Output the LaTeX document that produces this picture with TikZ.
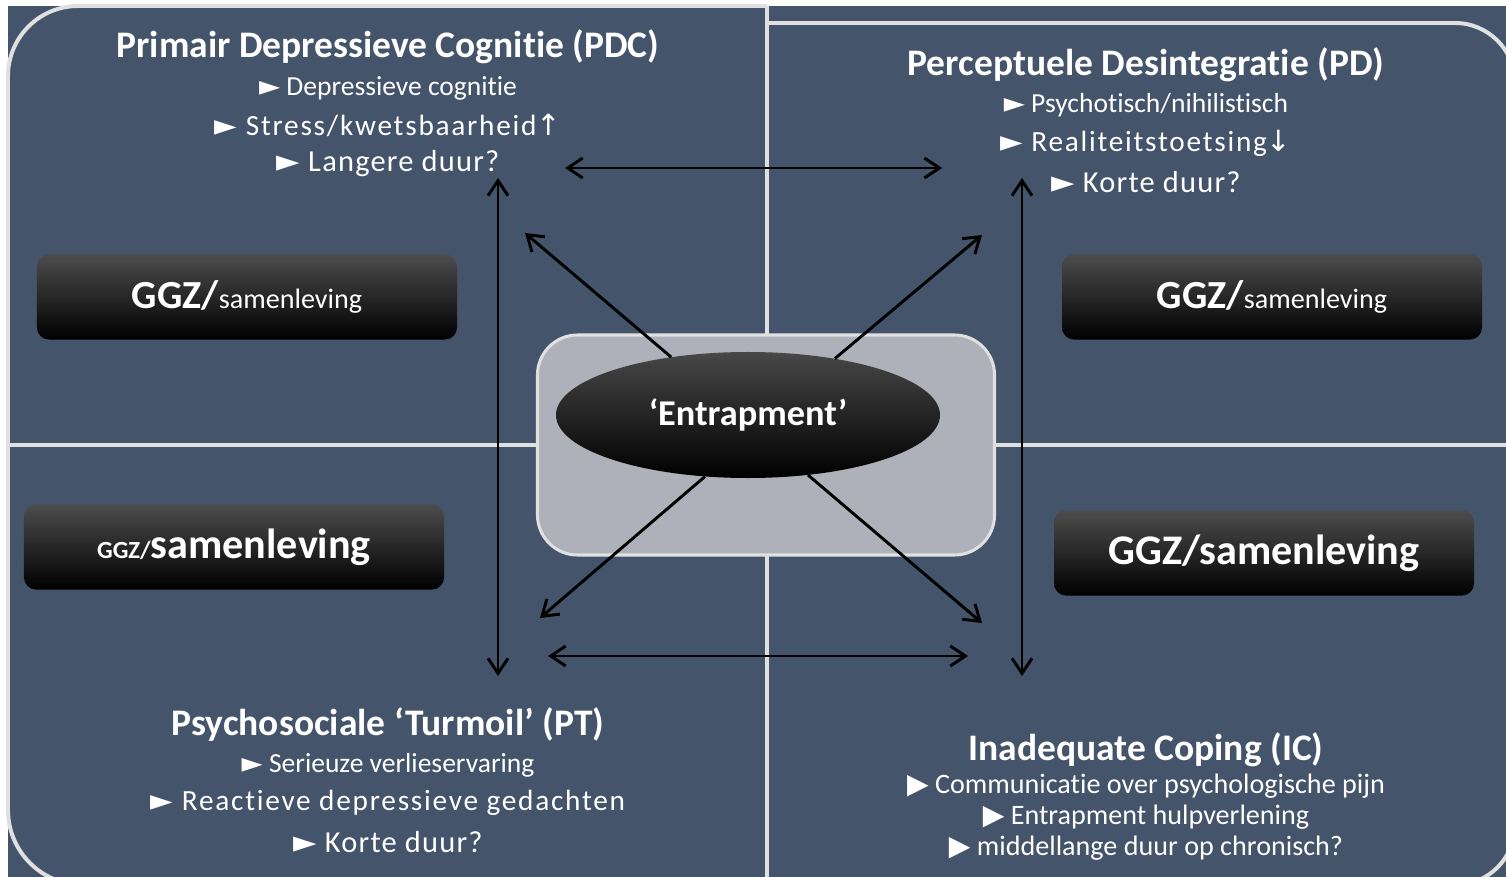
\documentclass[tikz,border=0pt]{standalone}
\usepackage{fontspec}
\setmainfont{Carlito}[Ligatures={NoCommon,NoContextual}, RawFeature={-liga;-clig;-calt;-dlig}]
\newfontfamily\symfont{DejaVu Sans}
\usetikzlibrary{arrows.meta,positioning,shapes.geometric}
\definecolor{slate}{RGB}{68,84,106}
\definecolor{rim}{RGB}{224,224,224}
\definecolor{hubgray}{RGB}{174,177,185}
\newcommand{\fsz}[1]{\fontsize{#1}{#1}\selectfont}
\newcommand{\tri}{{\symfont ►}\ }
\newcommand{\btri}{{\symfont ▶}\ }
\newcommand{\upar}{{\symfont ↑}}
\newcommand{\dnar}{{\symfont ↓}}
\tikzstyle{quad} = [draw=rim, line width=3.4pt]
\tikzstyle{hdr} = [text=white, inner sep=0pt, font=\bfseries\fsz{32pt}]
\tikzstyle{item} = [text=white, inner sep=0pt]
\tikzstyle{ggz} = [rectangle, rounded corners=0.36cm, top color=black!70,
middle color=black, bottom color=black, text=white, inner sep=0pt,
minimum width=12.6cm, minimum height=2.55cm]
\tikzstyle{hub} = [rectangle, draw=rim, fill=hubgray, line width=2.6pt,
rounded corners=1.2cm, minimum width=13.71cm, minimum height=6.6cm]
\tikzstyle{trap} = [ellipse, top color=black!72, middle color=black, bottom color=black,
inner sep=0pt, minimum width=11.52cm, minimum height=3.78cm, text=white,
font=\bfseries\fsz{31pt}]
\tikzstyle{link} = [draw, -{Straight Barb[length=0.45cm,width=0.6cm]}, line width=2.5pt]
\tikzstyle{both} = [draw, {Straight Barb[length=0.45cm,width=0.6cm]}-{Straight Barb[length=0.45cm,width=0.6cm]}, line width=2.5pt]

\begin{document}
\begin{tikzpicture}[x=0.03cm, y=-0.03cm]
\useasboundingbox (0,0) rectangle (1506,877);
\clip (0,0) rectangle (1506,877);
\fill[white] (0,0) rectangle (1506,877);
\fill[slate] (8,6) rectangle (1506,877);
% quadrants
\draw[quad] (767,6) -- (78,6) arc[start angle=90, end angle=180, radius=2.1cm] -- (8,445) -- (767,445);
\draw[quad] (767,23) -- (1455,23) arc[start angle=90, end angle=0, radius=1.8cm] -- (1515,445);
\draw[quad] (8,445) -- (8,810) arc[start angle=180, end angle=270, radius=2.25cm] -- (767,885);
\draw[quad] (1515,445) -- (1515,825) arc[start angle=0, end angle=-90, radius=1.8cm] -- (767,885);
\draw[quad] (767,6) -- (767,885);
\draw[quad] (8,445) -- (1515,445);

% Place nodes
\node[hub] (hub) at (766,445) {};
\node[trap] (ent) at (748,415) {‘Entrapment’};

\node[hdr] (pdc) at (388,47) {Primair Depressieve Cognitie (PDC)};
\node[item, font=\fsz{23.5pt}, below of=pdc, node distance=1.23cm] (pdc1) {\tri Depressieve cognitie};
\node[item, font=\addfontfeature{LetterSpace=6}\fsz{25pt}, below of=pdc1, node distance=1.11cm] (pdc2) {\tri Stress/kwetsbaarheid\upar};
\node[item, font=\addfontfeature{LetterSpace=4}\fsz{26pt}, below of=pdc2, node distance=1.17cm] (pdc3) {\tri Langere duur?};

\node[hdr] (pd) at (1146,65) {Perceptuele Desintegratie (PD)};
\node[item, font=\fsz{23.5pt}, below of=pd, node distance=1.2cm] (pd1) {\tri Psychotisch/nihilistisch};
\node[item, font=\addfontfeature{LetterSpace=6}\fsz{25pt}, below of=pd1, node distance=1.14cm] (pd2) {\tri Realiteitstoetsing\dnar};
\node[item, font=\addfontfeature{LetterSpace=4}\fsz{26pt}, below of=pd2, node distance=1.17cm] (pd3) {\tri Korte duur?};

\node[hdr] (pt) at (388,725) {Psychosociale ‘Turmoil’ (PT)};
\node[item, font=\fsz{23.5pt}, below of=pt, node distance=1.2cm] (pt1) {\tri Serieuze verlieservaring};
\node[item, font=\addfontfeature{LetterSpace=6}\fsz{25pt}, below of=pt1, node distance=1.14cm] (pt2) {\tri Reactieve depressieve gedachten};
\node[item, font=\addfontfeature{LetterSpace=4}\fsz{26pt}, below of=pt2, node distance=1.17cm] (pt3) {\tri Korte duur?};

\node[hdr] (ic) at (1146,750) {Inadequate Coping (IC)};
\node[item, font=\fsz{24pt}, below of=ic, node distance=1.08cm] (ic1) {\btri Communicatie over psychologische pijn};
\node[item, font=\fsz{24pt}, below of=ic1, node distance=0.93cm] (ic2) {\btri Entrapment hulpverlening};
\node[item, font=\fsz{24pt}, below of=ic2, node distance=0.93cm] (ic3) {\btri middellange duur op chronisch?};

\node[ggz] (ggztl) at (247,297) {{\bfseries\fsz{34pt}GGZ/}{\fsz{24pt}samenleving}};
\node[ggz] (ggztr) at (1272,297) {{\bfseries\fsz{34pt}GGZ/}{\fsz{24pt}samenleving}};
\node[ggz] (ggzbl) at (234,547) {{\bfseries\fsz{21pt}GGZ/}{\bfseries\fsz{36pt}samenleving}};
\node[ggz] (ggzbr) at (1264,553) {\bfseries\fsz{36pt}GGZ/samenleving};

% free arrow ends
\coordinate (tl) at (525,233);
\coordinate (tr) at (982,235);
\coordinate (bl) at (540,618);
\coordinate (br) at (982,623);
\coordinate (topw) at (565,168);
\coordinate (tope) at (942,168);
\coordinate (botw) at (548,656);
\coordinate (bote) at (968,656);
\coordinate (lefn) at (498,178);
\coordinate (lefs) at (498,676);
\coordinate (rign) at (1022,178);
\coordinate (rigs) at (1022,676);

\path[link] (ent.143) -- (tl);
\path[link] (ent.33) -- (tr);
\path[link] (ent.235) -- (bl);
\path[link] (ent.315) -- (br);
\path[both] (topw) -- (tope);
\path[both] (botw) -- (bote);
\path[both] (lefn) -- (lefs);
\path[both] (rign) -- (rigs);
\end{tikzpicture}
\end{document}
